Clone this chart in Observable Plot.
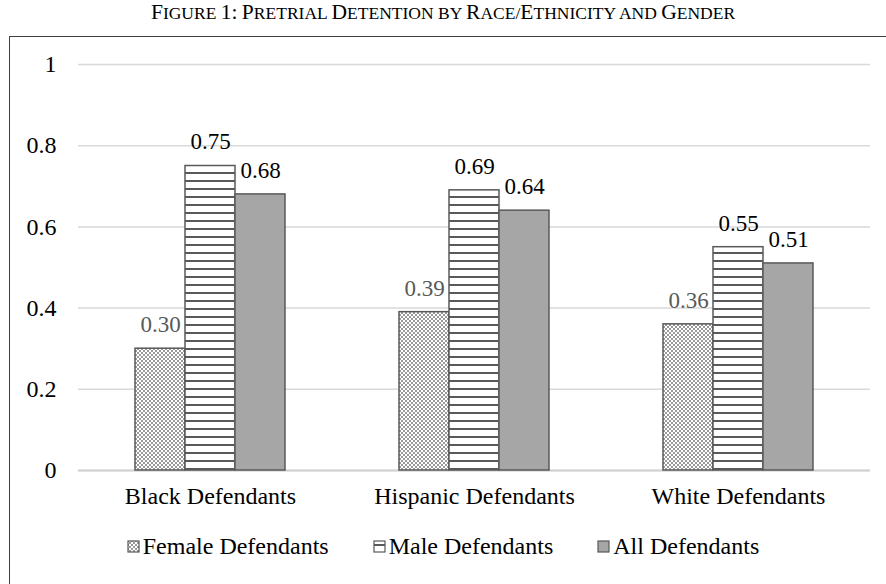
<!DOCTYPE html>
<html>
<head>
<meta charset="utf-8">
<script src="https://cdn.jsdelivr.net/npm/d3@7"></script>
<script src="https://cdn.jsdelivr.net/npm/@observablehq/plot@0.6"></script>
<style>
  html, body { margin: 0; padding: 0; background: #fff; }
  body { width: 886px; height: 584px; position: relative; overflow: hidden; font-family: "Liberation Serif", serif; }
  #frame { position: absolute; left: 9px; top: 36px; width: 900px; height: 600px; border: 1.5px solid #404040; box-sizing: border-box; }
  #title { position: absolute; left: 0; width: 886px; top: 0px; text-align: center; font-family: "Liberation Serif", serif; color: #000; white-space: nowrap; }
  #title .b { font-size: 21.5px; }
  #title .s { font-size: 17.5px; }
  #chart { position: absolute; left: 0; top: 0; }
  #legend { position: absolute; left: 0; width: 886px; top: 533px; display: flex; justify-content: center; font-family: "Liberation Serif", serif; font-size: 24px; color: #000; }
  #legend .item { display: flex; align-items: center; margin: 0 22px; }
  #legend svg { margin-right: 2px; }
</style>
</head>
<body>
<div id="frame"></div>
<div id="title"></div>
<div id="chart"></div>
<div id="legend"></div>
<script>
// Groups along the x axis and the three series drawn for each
const groups = ["Black Defendants", "Hispanic Defendants", "White Defendants"];
const series = ["Female Defendants", "Male Defendants", "All Defendants"];
const female = [0.30, 0.39, 0.36];
const male = [0.75, 0.69, 0.55];
const all = [0.68, 0.64, 0.51];
const yTicks = [0, 0.2, 0.4, 0.6, 0.8, 1];
const yTickLabels = ["0", "0.2", "0.4", "0.6", "0.8", "1"];
const titleText = "Figure 1: Pretrial Detention by Race/Ethnicity and Gender";

const serif = "'Liberation Serif', serif";
const fills = {
  "Female Defendants": "url(#checker)",
  "Male Defendants": "url(#stripes)",
  "All Defendants": "#a6a6a6"
};
const labelColors = {
  "Female Defendants": "#595959",
  "Male Defendants": "#000000",
  "All Defendants": "#000000"
};

// Title in small capitals: capital letters large, the rest as smaller capitals
const title = d3.select("#title");
for (const ch of titleText) {
  const big = ch !== ch.toLowerCase() || /[0-9:]/.test(ch);
  title.append("span").attr("class", big ? "b" : "s").text(ch.toUpperCase());
}

const rows = [];
groups.forEach((g, i) => {
  rows.push({group: g, series: series[0], value: female[i]});
  rows.push({group: g, series: series[1], value: male[i]});
  rows.push({group: g, series: series[2], value: all[i]});
});

const chart = Plot.plot({
  width: 886,
  height: 520,
  marginTop: 64,
  marginBottom: 50,
  marginLeft: 77,
  marginRight: 15,
  style: {fontFamily: serif, fontSize: "24px", background: "transparent"},
  fx: {domain: groups, padding: 0, label: null},
  x: {domain: series, paddingInner: 0, paddingOuter: 1.1, axis: null},
  y: {domain: [0, 1], label: null},
  marks: [
    Plot.gridY(yTicks, {stroke: "#d9d9d9", strokeOpacity: 1, strokeWidth: 1.5}),
    Plot.ruleY([0], {stroke: "#d0d0d0", strokeWidth: 2}),
    Plot.axisY({ticks: yTicks, tickSize: 0, tickPadding: 22, label: null, fill: "#000",
      fontFamily: serif, fontSize: 24,
      tickFormat: d => yTickLabels[yTicks.indexOf(d)]}),
    Plot.axisFx({anchor: "bottom", tickSize: 0, tickPadding: 16, label: null, fill: "#000",
      fontFamily: serif, fontSize: 24}),
    Plot.barY(rows, {
      fx: "group", x: "series", y: "value",
      fill: d => fills[d.series],
      stroke: "#595959", strokeWidth: 1.5
    }),
    Plot.text(rows, {
      fx: "group", x: "series", y: "value",
      text: d => d.value.toFixed(2),
      fill: d => labelColors[d.series],
      dy: -24, fontSize: 23, fontFamily: serif
    })
  ]
});

// Fill patterns for the female (checkered) and male (striped) bars
const defs = d3.select(chart).insert("defs", ":first-child");
const checker = defs.append("pattern").attr("id", "checker")
  .attr("patternUnits", "userSpaceOnUse").attr("width", 4).attr("height", 4);
checker.append("rect").attr("width", 4).attr("height", 4).attr("fill", "#ffffff");
checker.append("rect").attr("width", 2).attr("height", 2).attr("fill", "#9a9a9a");
checker.append("rect").attr("x", 2).attr("y", 2).attr("width", 2).attr("height", 2).attr("fill", "#9a9a9a");
const stripes = defs.append("pattern").attr("id", "stripes")
  .attr("patternUnits", "userSpaceOnUse").attr("width", 8).attr("height", 8);
stripes.append("rect").attr("width", 8).attr("height", 8).attr("fill", "#ffffff");
stripes.append("rect").attr("y", 4).attr("width", 8).attr("height", 2).attr("fill", "#595959");

document.getElementById("chart").appendChild(chart);

// Legend built from the same series and fills
const legend = d3.select("#legend");
series.forEach(s => {
  const item = legend.append("div").attr("class", "item");
  const sw = item.append("svg").attr("width", 14).attr("height", 14);
  sw.append("rect").attr("x", 1).attr("y", 1).attr("width", 11).attr("height", 11)
    .attr("fill", fills[s]).attr("stroke", "#595959").attr("stroke-width", 1.2);
  item.append("span").text(s);
});
</script>
</body>
</html>
